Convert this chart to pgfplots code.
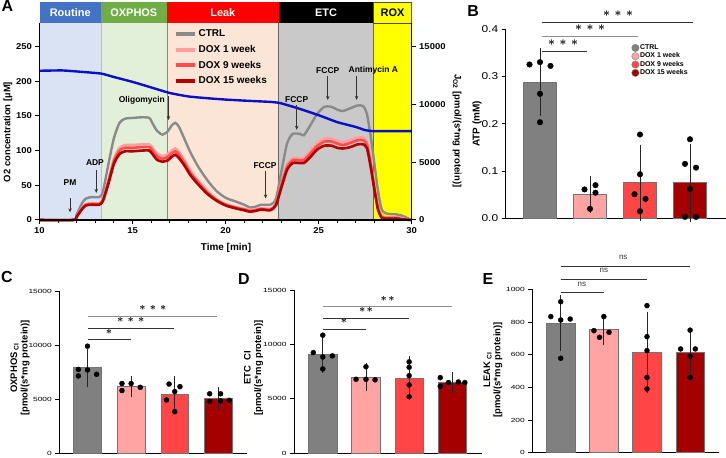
\documentclass[border=0pt]{standalone}
\usepackage{fontspec}
\setmainfont{Liberation Sans}
\newfontfamily\tickA[FakeStretch=1.12]{Liberation Sans}
\newfontfamily\tickB[FakeStretch=1.2]{Liberation Sans}
\newfontfamily\tickS[FakeStretch=1.4]{Liberation Sans}
\usepackage{pgfplots}
\pgfplotsset{compat=1.18}
\usepackage{pgfplotstable}
\usetikzlibrary{arrows.meta}

\definecolor{ctrlc}{HTML}{808080}
\definecolor{d1c}{HTML}{FFA3A3}
\definecolor{d9c}{HTML}{FF4545}
\definecolor{d15c}{HTML}{A50000}
\definecolor{lctrl}{HTML}{8A8A8A}
\definecolor{ld1}{HTML}{FFA0A0}
\definecolor{ld9}{HTML}{FF4D4D}
\definecolor{ld15}{HTML}{B00000}
\definecolor{o2blue}{HTML}{0A10C8}
\definecolor{hRoutine}{HTML}{4472C4}
\definecolor{rRoutine}{HTML}{DAE3F3}
\definecolor{hOx}{HTML}{70AD47}
\definecolor{rOx}{HTML}{E2F0D9}
\definecolor{hLeak}{HTML}{FF0000}
\definecolor{rLeak}{HTML}{FBE5D6}
\definecolor{rEtc}{HTML}{C9C9C9}
\definecolor{rRox}{HTML}{FFFF00}

\pgfplotstableread{
t ctrl d1 d9 d15
10.0 0 0 0 0
11.8 0 0 0 0
12.0 8 5 5 5
12.3 25 18 17 16
12.5 31 23 22 21
12.8 33 24 23 22
13.2 33 24 23 22
13.4 40 29 28 27
13.7 80 57 55 52
14.0 118 88 85 81
14.3 140 104 100 95
14.6 146 108 104 99
15.0 147 108 104 99
15.5 148 109 105 100
15.9 147 109 105 100
16.1 138 103 99 94
16.3 129 96 92 87
16.6 123 92 88 84
16.9 128 95 91 86
17.1 136 100 96 91
17.3 140 103 99 94
17.5 134 98 94 89
17.8 116 85 82 78
18.1 98 71 68 65
18.5 78 57 55 52
19.0 58 42 40 38
19.5 42 30 29 28
20.0 32 23 22 21
20.5 27 19 18 17
21.0 22 16 15 14
21.3 18 14 13 12
21.6 19 15 14 13
21.9 22 17 16 15
22.4 22 16 15 14
22.7 30 23 22 21
23.0 70 52 50 47
23.3 110 79 76 72
23.6 124 89 86 82
24.0 124 89 86 82
24.2 122 89 86 82
24.5 134 98 94 89
24.9 152 110 106 101
25.3 163 117 113 107
25.7 163 117 113 107
26.0 159 114 110 104
26.3 157 112 108 103
26.7 161 115 111 105
27.1 165 119 115 109
27.4 164 119 115 109
27.6 152 112 108 103
27.8 120 83 80 76
28.0 80 47 45 43
28.2 40 16 15 14
28.4 14 5 4 3
28.7 9 4 3 2
29.2 8 4 3 2
29.5 6 2 1 1
30.0 0 0 0 0
}\curves

\pgfplotstableread{
t o2
10 215
11.2 215.5
12 214
13.3 211
14 206
15 199
16 191
17 183
18 178
19 175.5
20 173.5
21 172
22.5 170
23 168
24 160
25 151
26 141
27 134
27.5 129.5
28 128
30 128
}\oxy

\pgfplotsset{
  barpanel/.style={scale only axis, anchor=south west,
    axis x line*=bottom, axis y line*=left, xtick=\empty,
    tick align=outside, major tick length=4bp,
    axis line style={line width=0.9bp},
    every tick/.style={black, line width=0.9bp},
    scaled y ticks=false,
    /pgf/number format/assume math mode=true,
    /pgf/number format/1000 sep={},
    yticklabel style={font=\tickS\fontsize{6}{7}\selectfont},
    ymin=0, clip=false},
  bw/.style={ybar, bar width=#1, bar shift=0pt, draw=black!55, line width=0.6bp, forget plot},
  eb/.style={draw=none, mark=none, forget plot,
    error bars/.cd, y dir=both, y explicit,
    error bar style={draw=black!85, line width=0.8bp, solid},
    error mark options={draw=black!85, line width=0.8bp, mark size=#1}},
  pts/.style={only marks, mark=*, mark size=#1, mark options={fill=black, draw=black}, forget plot},
}

\newcommand{\sigline}[4]{% x1 x2 y color
  \draw[#4, line width=0.8bp] (axis cs:#1,#3) -- (axis cs:#2,#3);}
\newcommand{\sthree}{$\ast\mkern2mu\ast\mkern2mu\ast$}
\newcommand{\stwo}{$\ast\mkern2mu\ast$}
\newcommand{\sone}{$\ast$}
\tikzset{star/.style={font=\boldmath\fontsize{#1}{#1}\selectfont, inner sep=0pt}}

\begin{document}
\begin{tikzpicture}
\useasboundingbox (0,0) rectangle (726bp,458bp);

%================ PANEL A ================
\begin{axis}[
  at={(39.5bp,238bp)}, anchor=south west, scale only axis,
  width=372.2bp, height=196.7bp,
  xmin=10, xmax=30, ymin=0, ymax=283.4,
  axis x line*=bottom, axis y line*=left,
  axis line style={line width=1.2bp},
  xtick={10,15,20,25,30}, minor xtick={11,12,13,14,16,17,18,19,21,22,23,24,26,27,28,29},
  ytick={0,50,100,150,200,250},
  tick align=outside, major tick length=4bp, minor tick length=3bp,
  every tick/.style={black, line width=1bp},
  tick label style={font=\tickA\bfseries\fontsize{8.5}{9}\selectfont},
  /pgf/number format/assume math mode=true,
  clip=false, axis on top,
  legend style={at={(axis cs:17.2,277)}, anchor=north west, draw=none, fill=none,
    font=\bfseries\fontsize{10}{11}\selectfont, row sep=3bp, inner sep=0pt},
  legend cell align=left,
  legend image code/.code={\draw[#1, line width=4bp] (0bp,0bp) -- (19bp,0bp);},
]
% regions
\fill[rRoutine] (axis cs:10,0) rectangle (axis cs:13.3,283.4);
\fill[rOx] (axis cs:13.3,0) rectangle (axis cs:16.85,283.4);
\fill[rLeak] (axis cs:16.85,0) rectangle (axis cs:22.85,283.4);
\fill[rEtc] (axis cs:22.85,0) rectangle (axis cs:27.95,283.4);
\fill[rRox] (axis cs:27.95,0) rectangle (axis cs:30,283.4);
\draw[hOx!60, line width=0.8bp] (axis cs:13.3,0) -- (axis cs:13.3,283.4);
\draw[orange!80!red, line width=0.8bp] (axis cs:16.85,0) -- (axis cs:16.85,283.4);
\draw[black!60, line width=0.8bp] (axis cs:22.85,0) -- (axis cs:22.85,283.4);
\draw[black!60, line width=0.8bp] (axis cs:27.95,0) -- (axis cs:27.95,283.4);
% headers
\fill[hRoutine] (axis cs:10,283.4) rectangle (axis cs:13.3,314);
\fill[hOx] (axis cs:13.3,283.4) rectangle (axis cs:16.85,314);
\fill[hLeak] (axis cs:16.85,283.4) rectangle (axis cs:22.85,314);
\fill[black] (axis cs:22.85,283.4) rectangle (axis cs:27.95,314);
\filldraw[fill=rRox, draw=black!70, line width=0.8bp] (axis cs:27.95,283.4) rectangle (axis cs:30,314);
\node[white, font=\bfseries\fontsize{11}{12}\selectfont] at (axis cs:11.65,298.7) {Routine};
\node[white, font=\bfseries\fontsize{11}{12}\selectfont] at (axis cs:15.07,298.7) {OXPHOS};
\node[white, font=\bfseries\fontsize{11}{12}\selectfont] at (axis cs:19.85,298.7) {Leak};
\node[white, font=\bfseries\fontsize{11}{12}\selectfont] at (axis cs:25.4,298.7) {ETC};
\node[black, font=\bfseries\fontsize{11}{12}\selectfont] at (axis cs:28.97,298.7) {ROX};

\addplot[lctrl, line width=2.4bp, smooth, tension=0.4] table[x=t, y=ctrl] {\curves};
\addlegendentry{CTRL}
\addplot[ld1, line width=2.6bp, smooth, tension=0.4] table[x=t, y=d1] {\curves};
\addlegendentry{DOX 1 week}
\addplot[ld9, line width=2.6bp, smooth, tension=0.4] table[x=t, y=d9] {\curves};
\addlegendentry{DOX 9 weeks}
\addplot[ld15, line width=2.6bp, smooth, tension=0.4] table[x=t, y=d15] {\curves};
\addlegendentry{DOX 15 weeks}
\addplot[o2blue, line width=2.4bp, smooth, tension=0.3, forget plot] table[x=t, y=o2] {\oxy};

% annotations
\tikzset{ann/.style={font=\bfseries\fontsize{8.5}{9}\selectfont, black},
         arr/.style={-{Stealth[length=4bp,width=3.5bp]}, line width=0.7bp, black!80}}
\node[ann] at (axis cs:11.64,53.3) {PM};
\draw[arr] (axis cs:11.64,32) -- (axis cs:11.64,11);
\node[ann] at (axis cs:12.98,82) {ADP};
\draw[arr] (axis cs:13.05,72) -- (axis cs:13.05,39);
\node[ann] at (axis cs:15.5,173) {Oligomycin};
\draw[arr] (axis cs:16.93,178) -- (axis cs:16.93,144);
\node[ann] at (axis cs:22.12,78) {FCCP};
\draw[arr] (axis cs:22.15,70) -- (axis cs:22.15,31);
\node[ann] at (axis cs:23.82,174) {FCCP};
\draw[arr] (axis cs:23.82,165) -- (axis cs:23.82,130);
\node[ann] at (axis cs:25.49,215) {FCCP};
\draw[arr] (axis cs:25.49,207) -- (axis cs:25.49,173);
\node[ann] at (axis cs:27.94,216) {Antimycin A};
\draw[arr] (axis cs:27.04,207) -- (axis cs:27.04,173);
\end{axis}

% right axis of A
\begin{axis}[
  at={(39.5bp,238bp)}, anchor=south west, scale only axis,
  width=372.2bp, height=196.7bp,
  xmin=10, xmax=30, ymin=0, ymax=17004,
  axis x line=none, axis y line*=right,
  axis line style={line width=1.2bp},
  ytick={0,5000,10000,15000},
  scaled y ticks=false,
  tick align=outside, major tick length=4bp,
  every tick/.style={black, line width=1bp},
  tick label style={font=\tickA\bfseries\fontsize{8.5}{9}\selectfont},
  /pgf/number format/assume math mode=true,
  /pgf/number format/1000 sep={},
]
\addplot[draw=none] coordinates {(10,0) (30,0)};
\end{axis}

%================ PANEL B ================
\begin{axis}[barpanel,
  at={(505.7bp,239.7bp)}, width=220.3bp, height=189.3bp,
  xmin=-0.686, xmax=3.72, ymax=0.4,
  ytick={0,0.1,0.2,0.3,0.4},
  yticklabel style={font=\tickB\fontsize{10}{11}\selectfont, /pgf/number format/.cd, fixed, fixed zerofill, precision=1},
  axis line style={line width=1.1bp},
  legend style={at={(axis cs:1.83,0.369)}, anchor=north west, draw=none, fill=none,
    font=\bfseries\fontsize{7}{8}\selectfont, row sep=0pt, inner sep=0pt,
    nodes={inner sep=0.9bp}},
  legend cell align=left,
]
\addplot[bw=0.66, fill=ctrlc] coordinates {(0,0.288)};
\addplot[bw=0.66, fill=d1c] coordinates {(1,0.051)};
\addplot[bw=0.66, fill=d9c] coordinates {(2,0.0755)};
\addplot[bw=0.66, fill=d15c] coordinates {(3,0.0755)};
\addplot[eb=8bp] coordinates {(0,0.288) +- (0,0.0545) (1,0.051) +- (0,0.022) (2,0.0755) +- (0,0.0635) (3,0.0755) +- (0,0.0655)};
\addplot[pts=2.8bp] coordinates {(-0.21,0.325) (0,0.33) (0.21,0.322) (0,0.263) (0,0.203)
  (0.89,0.061) (1.11,0.070) (1.11,0.054) (1,0.020)
  (2,0.177) (2,0.093) (1.89,0.051) (2.11,0.041) (2,0.015)
  (3,0.167) (2.9,0.115) (3.12,0.107) (3,0.062) (2.9,0.003) (3.12,0.003)};
\sigline{0.03}{0.93}{0.353}{black!80}
\node[star=12] at (axis cs:0.46,0.371) {\sthree};
\sigline{0.03}{1.96}{0.3837}{black!45}
\node[star=12] at (axis cs:1.0,0.402) {\sthree};
\sigline{0.03}{3.06}{0.414}{black!80}
\node[star=12] at (axis cs:1.56,0.432) {\sthree};
\addlegendimage{only marks, mark=*, mark size=3.7bp, mark options={fill=ctrlc, draw=black!50}}
\addlegendentry{CTRL}
\addlegendimage{only marks, mark=*, mark size=3.7bp, mark options={fill=d1c, draw=black!50}}
\addlegendentry{DOX 1 week}
\addlegendimage{only marks, mark=*, mark size=3.7bp, mark options={fill=d9c, draw=black!50}}
\addlegendentry{DOX 9 weeks}
\addlegendimage{only marks, mark=*, mark size=3.7bp, mark options={fill=d15c, draw=black!50}}
\addlegendentry{DOX 15 weeks}
\end{axis}

%================ PANEL C ================
\begin{axis}[barpanel,
  at={(59.3bp,4.7bp)}, width=187.4bp, height=162.3bp,
  xmin=-0.647, xmax=3.65, ymax=15000,
  ytick={0,5000,10000,15000},
]
\addplot[bw=0.635, fill=ctrlc] coordinates {(0,7920)};
\addplot[bw=0.635, fill=d1c] coordinates {(1,6160)};
\addplot[bw=0.635, fill=d9c] coordinates {(2,5450)};
\addplot[bw=0.635, fill=d15c] coordinates {(3,5050)};
\addplot[eb=7bp] coordinates {(0,7920) +- (0,1100) (1,6160) +- (0,300) (2,5450) +- (0,1030) (3,5050) +- (0,400)};
\addplot[pts=2.5bp] coordinates {(0,9900) (-0.21,7750) (0,7700) (0.21,7300) (-0.21,7150)
  (0.79,6450) (1,6450) (1.21,6100) (0.79,5800)
  (1.87,6400) (2.12,6160) (2,5700) (1.81,4930) (2,3850)
  (2.8,5500) (3.05,5500) (3.25,4900) (2.8,4800) (3.05,4850)};
\sigline{0.01}{0.99}{10536}{black!80}
\node[star=10.5] at (axis cs:0.49,11250) {\sone};
\sigline{0.01}{1.98}{11553}{black!80}
\node[star=10.5] at (axis cs:0.99,12300) {\sthree};
\sigline{0.01}{2.97}{12690}{black!45}
\node[star=10.5] at (axis cs:1.5,13450) {\sthree};
\end{axis}

%================ PANEL D ================
\begin{axis}[barpanel,
  at={(294bp,4.7bp)}, width=187.7bp, height=163.3bp,
  xmin=-0.667, xmax=3.68, ymax=15000,
  ytick={0,5000,10000,15000},
]
\addplot[bw=0.66, fill=ctrlc] coordinates {(0,9100)};
\addplot[bw=0.66, fill=d1c] coordinates {(1,7000)};
\addplot[bw=0.66, fill=d9c] coordinates {(2,6900)};
\addplot[bw=0.66, fill=d15c] coordinates {(3,6500)};
\addplot[eb=7bp] coordinates {(0,9100) +- (0,1100) (1,7000) +- (0,620) (2,6900) +- (0,1400) (3,6500) +- (0,330)};
\addplot[pts=2.5bp] coordinates {(0,10850) (-0.22,9250) (0.22,8950) (0,8850) (0,7750)
  (1,7950) (0.77,6800) (1,6800) (1.21,6750)
  (2,8400) (2,7900) (2,7130) (2,6280) (2,5200)
  (2.72,6950) (2.91,6500) (3.14,6550) (3.29,6500) (2.72,6150)};
\sigline{0}{1.0}{11418}{black!80}
\node[star=10.5] at (axis cs:0.49,12120) {\sone};
\sigline{0}{2.0}{12400}{black!80}
\node[star=10.5] at (axis cs:1.0,13150) {\stwo};
\sigline{0}{3.0}{13466}{black!45}
\node[star=10.5] at (axis cs:1.5,14150) {\stwo};
\end{axis}

%================ PANEL E ================
\begin{axis}[barpanel,
  at={(532.3bp,5.3bp)}, width=186.7bp, height=163.4bp,
  xmin=-0.659, xmax=3.67, ymax=1000,
  ytick={0,200,400,600,800,1000},
]
\addplot[bw=0.66, fill=ctrlc] coordinates {(0,792)};
\addplot[bw=0.66, fill=d1c] coordinates {(1,755)};
\addplot[bw=0.66, fill=d9c] coordinates {(2,614)};
\addplot[bw=0.66, fill=d15c] coordinates {(3,612)};
\addplot[eb=7bp] coordinates {(0,792) +- (0,128) (1,755) +- (0,54) (2,614) +- (0,206) (3,612) +- (0,104)};
\addplot[pts=2.5bp] coordinates {(0,924) (-0.23,833) (0,812) (0.22,818) (0,578)
  (1,833) (0.77,747) (1.12,737) (0.9,706)
  (2,900) (2,710) (2,625) (2,460) (2,390)
  (3,750) (2.78,635) (3.12,635) (3,590) (3,460)};
\sigline{0}{1.0}{982}{black!80}
\node[font=\fontsize{8}{8}\selectfont, black!80] at (axis cs:0.49,1032) {ns};
\sigline{0}{2.0}{1063}{black!80}
\node[font=\fontsize{8}{8}\selectfont, black!80] at (axis cs:1.0,1114) {ns};
\sigline{0}{3.0}{1143}{black!80}
\node[font=\fontsize{8}{8}\selectfont, black!80] at (axis cs:1.45,1196) {ns};
\end{axis}

%================ LABELS ================
\node[font=\bfseries\fontsize{10}{11}\selectfont] at (226bp,210bp) {Time [min]};
\node[font=\bfseries\fontsize{9.5}{11}\selectfont, rotate=90] at (8bp,326bp) {O2 concentration [µM]};
\node[font=\bfseries\fontsize{9.5}{11}\selectfont, rotate=-90] at (457bp,327bp) {J\textsubscript{O2} [pmol/(s*mg protein)]};
\node[font=\bfseries\fontsize{10}{11}\selectfont, rotate=90] at (477bp,334bp) {ATP (mM)};
\node[font=\bfseries\fontsize{9.5}{10.5}\selectfont, rotate=90, align=center] at (20bp,90bp) {OXPHOS\textsubscript{ CI}\\{[}pmol/(s*mg protein){]}};
\node[font=\bfseries\fontsize{9.5}{10.5}\selectfont, rotate=90, align=center] at (253.5bp,90bp) {ETC\ \ CI\\{[}pmol/(s*mg protein){]}};
\node[font=\bfseries\fontsize{9.5}{10.5}\selectfont, rotate=90, align=center] at (493bp,88bp) {LEAK\textsubscript{ CI}\\{[}pmol/(s*mg protein){]}};
\node[font=\bfseries\fontsize{16}{16}\selectfont] at (7.5bp,452bp) {A};
\node[font=\bfseries\fontsize{16}{16}\selectfont] at (473bp,447bp) {B};
\node[font=\bfseries\fontsize{16}{16}\selectfont] at (7bp,180.5bp) {C};
\node[font=\bfseries\fontsize{16}{16}\selectfont] at (244bp,179bp) {D};
\node[font=\bfseries\fontsize{16}{16}\selectfont] at (488bp,179bp) {E};
\end{tikzpicture}
\end{document}
